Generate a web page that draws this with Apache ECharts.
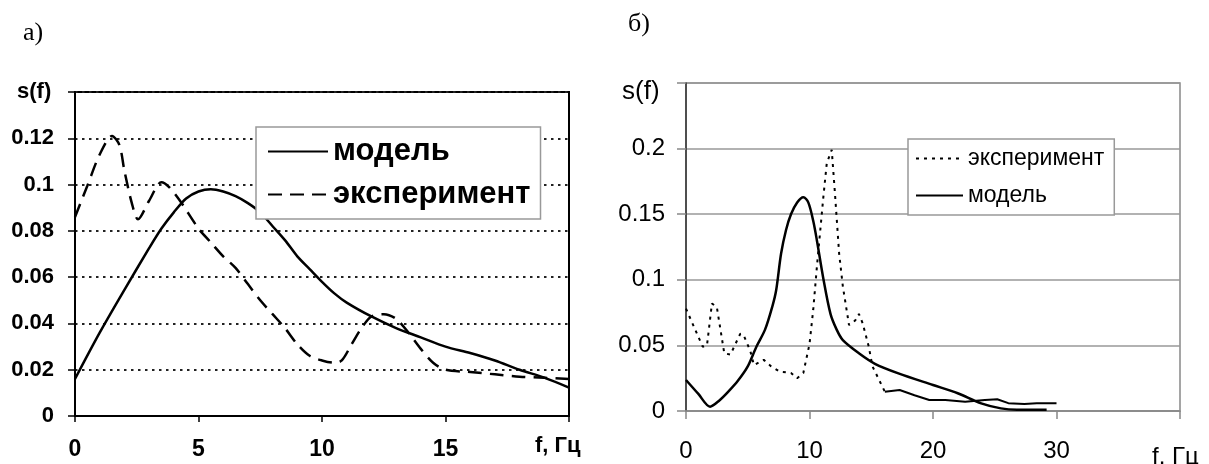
<!DOCTYPE html>
<html><head><meta charset="utf-8">
<script src="https://cdn.jsdelivr.net/npm/echarts@6/dist/echarts.min.js"></script>
<style>html,body{margin:0;padding:0;background:#fff}#c{width:1209px;height:464px}</style>
</head><body><div id="c"></div>
<script>
// ---- Chart а) ----
const aModelX = [0,1,2,3,3.5,4,4.5,5,5.5,6,6.5,7,7.5,8,8.5,9,9.5,10,10.5,11,12,13,14,15,16,17,18,19,20];
const aModelY = [0.016,0.036,0.0545,0.0725,0.081,0.088,0.094,0.097,0.098,0.097,0.095,0.092,0.088,0.082,0.076,0.069,0.0635,0.058,0.053,0.049,0.043,0.038,0.034,0.030,0.0272,0.024,0.020,0.0166,0.0123];
const aExpX = [0,0.5,1,1.5,1.8,2,2.3,2.55,3,3.5,3.8,4.25,5,5.5,6,6.5,7,7.5,8,8.5,9,9.5,10,10.5,10.8,11.2,11.6,12,12.5,13,13.5,14,14.5,15,16,17,18,19,20];
const aExpY = [0.086,0.0995,0.113,0.121,0.117,0.106,0.092,0.085,0.093,0.101,0.099,0.093,0.081,0.075,0.069,0.064,0.057,0.050,0.044,0.038,0.031,0.026,0.024,0.023,0.024,0.031,0.038,0.043,0.044,0.042,0.036,0.029,0.023,0.020,0.019,0.018,0.017,0.0165,0.016];
// ---- Chart б) ----
const bModelX = [0,1,1.95,2.7,3.5,4.2,5,5.7,6.4,7,7.3,7.7,8.1,8.5,9,9.5,9.9,10.3,10.6,11.1,11.7,12.2,12.7,14,15.3,17.2,20,22,23.9,25.5,26.8,29.2];
const bModelY = [0.0236,0.013,0.0033,0.008,0.0155,0.023,0.034,0.049,0.062,0.080,0.092,0.120,0.138,0.150,0.159,0.163,0.159,0.145,0.130,0.102,0.074,0.062,0.054,0.044,0.036,0.0287,0.0198,0.0135,0.0058,0.002,0.001,0.001];
const bExpX = [0,1.35,1.7,2.1,2.5,3.1,3.6,4.4,4.7,5.2,5.5,6.3,6.9,7.6,8.5,9.0,9.5,10.0,10.3,10.6,11.1,11.4,11.8,12.06,12.4,12.7,13.2,13.7,14.0,14.3,14.8,15.1,16.1,17.3,18.5,19.7,21,22.6,24.2,25.2,26.1,27.4,28.4,30];
const bExpY = [0.078,0.049,0.050,0.082,0.079,0.044,0.043,0.059,0.057,0.046,0.035,0.039,0.034,0.030,0.029,0.025,0.029,0.051,0.077,0.110,0.161,0.189,0.199,0.166,0.120,0.095,0.0655,0.069,0.074,0.067,0.049,0.034,0.0147,0.016,0.012,0.0084,0.0084,0.007,0.0084,0.009,0.006,0.0053,0.006,0.006];
const bExpSolidFrom = 32; // index where the dense tail looks solid
const aXTicks = [0,5,10,15];
const bXTicks = [0,10,20,30];

const F = 'Liberation Sans, Arial, sans-serif';
const zip = (xs, ys) => xs.map((x, i) => [x, ys[i]]);

const chart = echarts.init(document.getElementById('c'), null, {renderer: 'canvas'});
chart.setOption({
  animation: false,
  backgroundColor: '#fff',
  title: [
    {text: 'а)', left: 18, top: 15, textStyle: {fontFamily: 'Liberation Serif, serif', fontSize: 26, fontWeight: 'normal', color: '#000'}},
    {text: 'б)', left: 623, top: 6, textStyle: {fontFamily: 'Liberation Serif, serif', fontSize: 26, fontWeight: 'normal', color: '#000'}},
    {text: 's(f)', left: 12, top: 76, textStyle: {fontFamily: F, fontSize: 22, fontWeight: 'bold', color: '#000'}},
    {text: 'f, Гц', left: 530, top: 430, textStyle: {fontFamily: F, fontSize: 22, fontWeight: 'bold', color: '#000'}},
    {text: 's(f)', left: 617, top: 74, textStyle: {fontFamily: F, fontSize: 26, fontWeight: 'normal', color: '#000'}},
    {text: 'f. Гц', left: 1147, top: 440, textStyle: {fontFamily: F, fontSize: 24, fontWeight: 'normal', color: '#000'}}
  ],
  legend: [
    {left: 256, top: 127, orient: 'vertical', data: ['модель', 'эксперимент'], itemWidth: 60, itemHeight: 14, itemGap: 12,
     padding: [9, 10, 9, 11], borderColor: '#999', borderWidth: 1.5, backgroundColor: '#fff', selectedMode: false,
     itemStyle: {opacity: 0},
     textStyle: {fontFamily: F, fontSize: 31, fontWeight: 'bold', color: '#000'}},
    {left: 908, top: 139, orient: 'vertical', data: ['эксперимент_б', 'модель_б'], itemWidth: 47, itemHeight: 14, itemGap: 14,
     padding: [8, 10, 8, 7], borderColor: '#999', borderWidth: 1.5, backgroundColor: '#fff', selectedMode: false,
     itemStyle: {opacity: 0},
     formatter: n => n.split('_')[0],
     textStyle: {fontFamily: F, fontSize: 23, fontWeight: 'normal', color: '#000'}}
  ],
  grid: [
    {left: 75, right: 640, top: 92, bottom: 48, show: true, borderColor: '#000', borderWidth: 2, containLabel: false},
    {left: 686, right: 29, top: 83, bottom: 53, show: true, borderColor: '#888', borderWidth: 1.5, containLabel: false}
  ],
  xAxis: [
    {gridIndex: 0, type: 'value', min: 0, max: 20, interval: 5,
     axisLine: {lineStyle: {color: '#000', width: 2}},
     axisTick: {length: 6, lineStyle: {color: '#000', width: 1.5}},
     axisLabel: {margin: 22, fontFamily: F, fontSize: 23, fontWeight: 'bold', color: '#000',
       formatter: v => aXTicks.indexOf(v) >= 0 ? String(v) : ''},
     splitLine: {show: false}},
    {gridIndex: 1, type: 'value', min: 0, max: 40, interval: 10,
     axisLine: {lineStyle: {color: '#888', width: 1.5}},
     axisTick: {length: 8, lineStyle: {color: '#888', width: 1.5}},
     axisLabel: {margin: 28, fontFamily: F, fontSize: 24, color: '#000',
       formatter: v => bXTicks.indexOf(v) >= 0 ? String(v) : ''},
     splitLine: {show: false}}
  ],
  yAxis: [
    {gridIndex: 0, type: 'value', min: 0, max: 0.14, interval: 0.02,
     axisLine: {lineStyle: {color: '#000', width: 2}},
     axisTick: {length: 7, lineStyle: {color: '#000', width: 1.5}},
     axisLabel: {margin: 21, fontFamily: F, fontSize: 22, fontWeight: 'bold', color: '#000',
       formatter: v => v >= 0.139 ? '' : String(+v.toFixed(2))},
     splitLine: {show: true, lineStyle: {color: '#222', width: 2, type: [2.5, 4.5]}}},
    {gridIndex: 1, type: 'value', min: 0, max: 0.25, interval: 0.05,
     axisLine: {lineStyle: {color: '#333', width: 1.5}},
     axisTick: {length: 9, lineStyle: {color: '#888', width: 1.5}},
     axisLabel: {margin: 21, fontFamily: F, fontSize: 24, color: '#000',
       formatter: v => v >= 0.249 ? '' : String(+v.toFixed(2))},
     splitLine: {show: true, lineStyle: {color: '#999', width: 1.5}}}
  ],
  series: [
    {name: 'модель', type: 'line', xAxisIndex: 0, yAxisIndex: 0, data: zip(aModelX, aModelY),
     symbol: 'none', smooth: 0.3, itemStyle: {color: '#000'}, lineStyle: {color: '#000', width: 2.5}},
    {name: 'эксперимент', type: 'line', xAxisIndex: 0, yAxisIndex: 0, data: zip(aExpX, aExpY),
     symbol: 'none', smooth: 0.3, itemStyle: {color: '#000'}, lineStyle: {color: '#000', width: 2.5, type: [14, 8]}},
    {name: 'эксперимент_б', type: 'line', xAxisIndex: 1, yAxisIndex: 1,
     data: zip(bExpX, bExpY).slice(0, bExpSolidFrom + 1),
     symbol: 'none', itemStyle: {color: '#000'}, lineStyle: {color: '#000', width: 2, type: [3, 5]}},
    {name: 'эксперимент_б', type: 'line', xAxisIndex: 1, yAxisIndex: 1,
     data: zip(bExpX, bExpY).slice(bExpSolidFrom),
     symbol: 'none', itemStyle: {color: '#000'}, lineStyle: {color: '#000', width: 2}},
    {name: 'модель_б', type: 'line', xAxisIndex: 1, yAxisIndex: 1, data: zip(bModelX, bModelY),
     symbol: 'none', smooth: 0.3, itemStyle: {color: '#000'}, lineStyle: {color: '#000', width: 2.5}}
  ]
});
</script></body></html>
